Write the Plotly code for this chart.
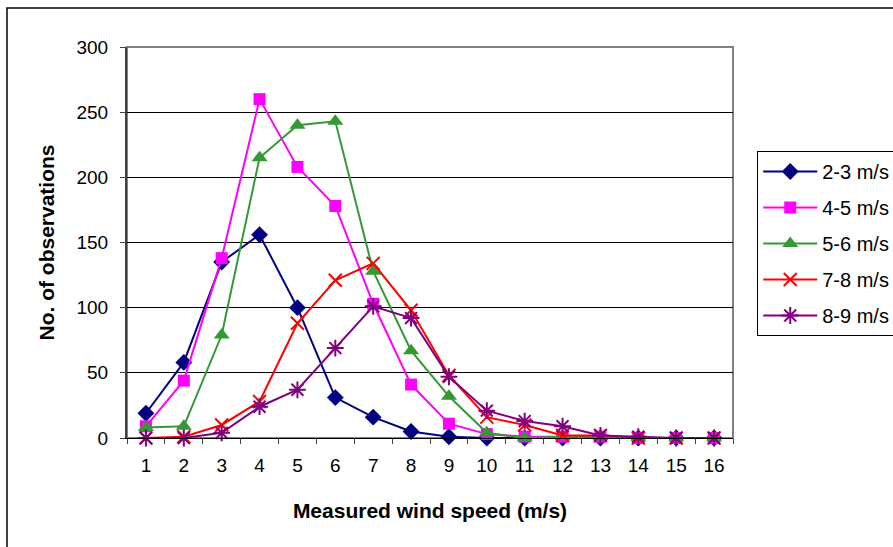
import plotly.graph_objects as go

speeds = [str(i) for i in range(1, 17)]
s23 = [19, 58, 135, 156, 100, 31, 16, 5, 1, 0, 0, 0, 0, 0, 0, 0]
s45 = [9, 44, 138, 260, 208, 178, 103, 41, 11, 3, 1, 1, 1, 0, 0, 0]
s56 = [8, 9, 79, 215, 240, 243, 128, 67, 32, 4, 0, 1, 1, 0, 0, 0]
s78 = [0, 1, 10, 28, 88, 121, 134, 98, 48, 16, 10, 2, 2, 0, 0, 0]
s89 = [0, 0, 4, 24, 37, 69, 101, 92, 47, 21, 13, 9, 2, 1, 0, 0]
names = ["2-3 m/s", "4-5 m/s", "5-6 m/s", "7-8 m/s", "8-9 m/s"]
yticks = [0, 50, 100, 150, 200, 250, 300]

series = [s23, s45, s56, s78, s89]
colors = ["#000080", "#FF00FF", "#339933", "#FF0000", "#800080"]
symbols = ["diamond", "square", "triangle-up", "x-thin", "asterisk"]
msizes = [13, 12, 14, 13, 14]

fig = go.Figure()
for i, (vals, nm, col, sym, ms) in enumerate(zip(series, names, colors, symbols, msizes)):
    thin = sym in ("x-thin", "asterisk")
    fig.add_trace(go.Scatter(
        x=speeds, y=vals, name=nm, mode="lines+markers",
        line=dict(color=col, width=2),
        marker=dict(symbol=sym, size=ms, color=col,
                    line=dict(color=col, width=2 if thin else 0)),
        cliponaxis=False, legendgroup=nm,
    ))

FONT = "Liberation Sans, Arial, sans-serif"
fig.update_layout(
    width=893, height=547,
    margin=dict(l=127, r=160, t=47, b=109, autoexpand=False),
    paper_bgcolor="white", plot_bgcolor="white",
    font=dict(family=FONT, color="black", size=19),
    showlegend=True,
    legend=dict(x=1.04, y=0.734, xanchor="left", yanchor="top",
                bordercolor="black", borderwidth=1, bgcolor="white",
                font=dict(size=20, family=FONT), tracegroupgap=7,
                itemwidth=54),
    xaxis=dict(type="category", range=[-0.5, 15.5], tickson="boundaries",
               ticks="outside", ticklen=5, tickcolor="#404040", showgrid=False,
               showline=True, linecolor="black", linewidth=1,
               tickfont=dict(size=19), ticklabelstandoff=10,
               title=dict(text="<b>Measured wind speed (m/s)</b>",
                          font=dict(size=21), standoff=28)),
    yaxis=dict(range=[0, 300], tickvals=yticks, ticks="outside", ticklen=5,
               tickcolor="#404040", showgrid=True, gridcolor="black",
               gridwidth=1, zeroline=False, showline=True,
               linecolor="#404040", linewidth=2, tickfont=dict(size=19),
               ticklabelstandoff=8,
               title=dict(text="<b>No. of observations</b>",
                          font=dict(size=21), standoff=16)),
)

# plot-area border (top and right in gray)
fig.add_shape(type="rect", xref="paper", yref="paper", x0=0, x1=1, y0=0, y1=1,
              line=dict(color="#808080", width=2), layer="below")
# outer chart frame
fig.add_shape(type="rect", xref="paper", yref="paper",
              x0=(7 - 127) / 606, x1=(905 - 127) / 606,
              y0=(438 - 560) / 391, y1=(438 - 8) / 391,
              line=dict(color="black", width=1.5))

fig.write_html("out.html")
